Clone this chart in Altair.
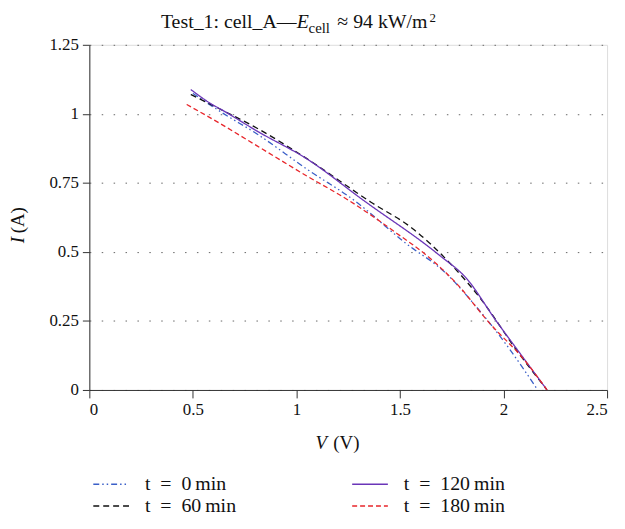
import altair as alt
import pandas as pd

# ---- data ----
series_names = ["t = 0 min", "t = 60 min", "t = 120 min", "t = 180 min"]

V0 = [0.50, 0.65, 0.81, 1.05, 1.28, 1.53, 1.72, 1.87, 2.03, 2.165]
I0 = [1.074, 1.00, 0.927, 0.80, 0.686, 0.53, 0.424, 0.30, 0.147, 0.0]

V60 = [0.49, 0.65, 0.81, 1.05, 1.36, 1.56, 1.74, 1.90, 2.06, 2.21]
I60 = [1.07, 1.01, 0.948, 0.838, 0.68, 0.585, 0.46, 0.32, 0.147, 0.0]

V120 = [0.49, 0.58, 0.65, 0.81, 1.05, 1.325, 1.69, 1.82, 1.96, 2.09, 2.21]
I120 = [1.088, 1.04, 1.01, 0.9375, 0.837, 0.686, 0.488, 0.405, 0.255, 0.122, 0.0]

V180 = [0.47, 0.62, 0.81, 1.05, 1.245, 1.485, 1.645, 1.77, 1.93, 2.11, 2.21]
I180 = [1.034, 0.97, 0.884, 0.775, 0.69, 0.567, 0.477, 0.388, 0.244, 0.10, 0.0]

x_ticks = [0, 0.5, 1, 1.5, 2, 2.5]
y_ticks = [0, 0.25, 0.5, 0.75, 1, 1.25]

SP = "\u2002"   # en space (math-style spacing around "=")
TH = "\u2009"   # thin space
labels = {n: n.replace(" = ", SP + "=" + SP).replace(" min", TH + "min") for n in series_names}

legend_order = [labels[n] for n in series_names]
colors = ["#3a5fc8", "#111111", "#6a35b8", "#e8262b"]
dashes = [[6, 3, 1.5, 3, 1.5, 3], [6, 4], [1, 0], [5, 3]]

rows = []
for name, vs, is_ in zip(series_names, [V0, V60, V120, V180], [I0, I60, I120, I180]):
    for k, (v, i) in enumerate(zip(vs, is_)):
        rows.append({"series": labels[name], "V": v, "I": i, "order": k})
df = pd.DataFrame(rows)

FONT = "Liberation Serif"

lines = alt.Chart(df).mark_line(strokeWidth=1.3, interpolate="monotone").encode(
    x=alt.X("V:Q", scale=alt.Scale(domain=[0, 2.5], nice=False),
            axis=alt.Axis(values=x_ticks, format=".2~f", title=None, grid=False,
                          domainColor="#333", tickColor="#333", tickSize=8,
                          labelFont=FONT, labelFontSize=17, labelColor="#111",
                          labelPadding=4)),
    y=alt.Y("I:Q", scale=alt.Scale(domain=[0, 1.25], nice=False),
            axis=alt.Axis(values=y_ticks, format=".2~f", title=None, grid=True,
                          gridDash=[1.5, 10.5], gridColor="#666", gridWidth=1,
                          domainColor="#333", tickColor="#333", tickSize=7,
                          labelFont=FONT, labelFontSize=17, labelColor="#111",
                          labelPadding=4)),
    color=alt.Color("series:N", scale=alt.Scale(domain=legend_order, range=colors),
                    legend=alt.Legend(title=None, orient="none", legendX=0, legendY=433,
                                      columns=2, columnPadding=113, rowPadding=2,
                                      symbolType="M-1,0L5,0", symbolSize=144,
                                      symbolStrokeWidth=1.4, labelFont=FONT,
                                      labelFontSize=20, labelColor="#111",
                                      labelOffset=36, labelLimit=300)),
    strokeDash=alt.StrokeDash("series:N", scale=alt.Scale(domain=legend_order, range=dashes),
                              legend=alt.Legend(title=None)),
    order="order:Q",
)


def txt(text, x, y, size=17, style="normal", angle=0, baseline="alphabetic", align="left"):
    return alt.Chart(pd.DataFrame({"t": [text]})).mark_text(
        font=FONT, fontSize=size, fontStyle=style, color="#111",
        align=align, baseline=baseline, angle=angle,
    ).encode(text="t:N", x=alt.value(x), y=alt.value(y))


# title pieces (relative to plot origin)
title_parts = [
    txt("Test_1: cell_A\u2014", 209, -17, size=20, align="right"),
    txt("E", 209, -17, size=20, style="italic"),
    txt("cell", 221, -12, size=15),
    txt("\u2248 94 kW/m", 250, -17, size=20),
    txt("2", 343, -23, size=13),
]
ytitle = [
    txt("I", -72, 200, size=19, style="italic", angle=270, baseline="middle"),
    txt("(A)", -72, 190, size=19, angle=270, baseline="middle"),
]
xtitle = [
    txt("V", 228, 402, size=19, style="italic", baseline="middle"),
    txt("(V)", 246, 402, size=19, baseline="middle"),
]

chart = alt.layer(lines, *title_parts, *ytitle, *xtitle).properties(
    width=522, height=348,
    autosize="none",
    padding={"left": 82, "top": 35, "right": 10, "bottom": 130},
).configure_view(stroke=None).configure(background="white")

chart.save("out.html", embed_options={"renderer": "svg", "actions": False})
